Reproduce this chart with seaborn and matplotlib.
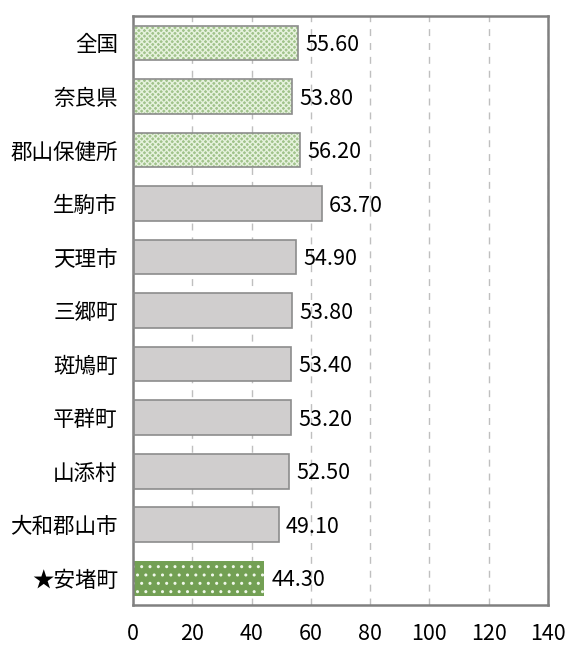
import seaborn as sns
import matplotlib.pyplot as plt
import pandas as pd

areas = ["全国", "奈良県", "郡山保健所", "生駒市", "天理市", "三郷町",
         "斑鳩町", "平群町", "山添村", "大和郡山市", "★安堵町"]
values = [55.6, 53.8, 56.2, 63.7, 54.9, 53.8, 53.4, 53.2, 52.5, 49.1, 44.3]
groups = ["ref", "ref", "ref", "city", "city", "city",
          "city", "city", "city", "city", "home"]

df = pd.DataFrame({"area": areas, "value": values, "group": groups})

sns.set_style("white")
plt.rcParams["font.family"] = ["Noto Sans CJK JP", "DejaVu Sans"]
plt.rcParams["hatch.linewidth"] = 1.0

fig = plt.figure(figsize=(5.66, 6.46), dpi=100)
ax = fig.add_axes([0.235, 0.0635, 0.733, 0.9115])

fills = {"ref": "#9fcc82", "city": "#d0cece", "home": "#70ad47"}
hatches = {"ref": "xxxxxx", "city": "", "home": ".."}
hatch_col = {"ref": "#e6f2dd", "city": "#d0cece", "home": "#f0f8ea"}

sns.barplot(data=df, x="value", y="area", hue="group", palette=fills,
            width=0.65, dodge=False, legend=False, ax=ax, zorder=2,
            linewidth=0)

# hatch the patches (hatch colour follows edgecolor)
for bar, g in zip(sorted(ax.patches, key=lambda p: p.get_y()), groups):
    bar.set_hatch(hatches[g])
    bar.set_edgecolor(hatch_col[g])
    bar.set_linewidth(0)

# outlines for the grey and light-green bars
outline = df[df["group"] != "home"]
ax.barh(outline["area"], outline["value"], height=0.65, fill=False,
        edgecolor="#8c8c8c", linewidth=1.2, zorder=3)

for i, v in enumerate(values):
    ax.text(v + 2.5, i + 0.04, f"{v:.2f}", va="center", ha="left",
            fontsize=15.5, color="black")

ax.set_xlim(0, 140)
ax.set_ylim(len(areas) - 0.5, -0.5)
ax.set_xticks(range(0, 141, 20))
ax.xaxis.grid(True, linestyle=(0, (5, 5)), color="#bfbfbf", linewidth=1, zorder=0)
ax.set_axisbelow(True)
ax.set_xlabel("")
ax.set_ylabel("")
ax.tick_params(axis="x", length=0, pad=13, labelsize=15.5, labelcolor="black")
ax.tick_params(axis="y", length=0, pad=11, labelsize=15.5, labelcolor="black")
for s in ax.spines.values():
    s.set_color("#808080")
    s.set_linewidth(1.8)

fig.savefig("out.png", dpi=100)
